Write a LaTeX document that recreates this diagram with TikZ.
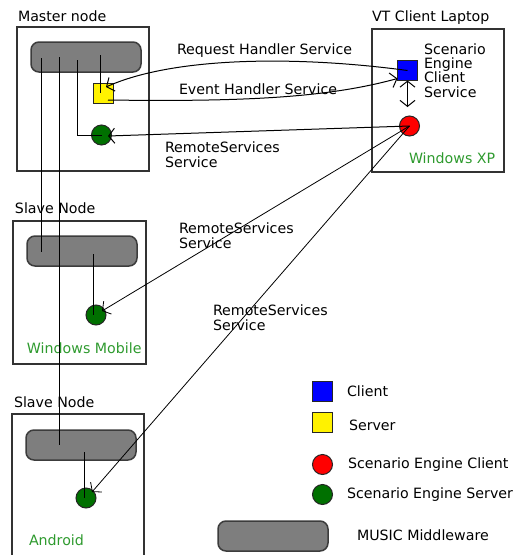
\documentclass[tikz,border=0pt]{standalone}
\usepackage{fontspec}
\setmainfont{DejaVu Sans}
\usetikzlibrary{arrows.meta,calc}
\definecolor{mwfill}{HTML}{7E7E7E}
\definecolor{mwedge}{HTML}{3C3C3C}
\definecolor{osgreen}{HTML}{2E9A2E}
\definecolor{segreen}{HTML}{007000}
\begin{document}
\begin{tikzpicture}[x=1pt,y=-1pt,
  font=\fontsize{14.2}{14.4}\selectfont, line width=1pt,
  hostbox/.style={draw=black!80, line width=1.2pt, inner sep=0, outer sep=0, anchor=north west},
  mw/.style={draw=mwedge, fill=mwfill, rounded corners=8pt, line width=1.5pt,
    minimum width=110pt, minimum height=30pt, inner sep=0, outer sep=0, anchor=north west},
  sq/.style={draw=black!85, line width=1pt, minimum size=20pt, inner sep=0, outer sep=0},
  dot/.style={circle, draw=black!85, line width=1pt, minimum size=20pt, inner sep=0, outer sep=0},
  lbl/.style={anchor=base west, inner sep=0, outer sep=0},
  ostext/.style={lbl, text=osgreen},
  tip/.tip={Straight Barb[length=6pt,width=15pt]},
  arr/.style={-tip},
  diag/.style={arr, line width=0.8pt}]
\useasboundingbox (0,0) rectangle (517,555);

% host boxes
\node[hostbox, minimum width=132pt, minimum height=144pt] (master) at (17,27) {};
\node[hostbox, minimum width=133pt, minimum height=143pt] (slave1) at (13,221) {};
\node[hostbox, minimum width=132pt, minimum height=150pt] (slave2) at (12,414) {};
\node[hostbox, minimum width=132pt, minimum height=143pt] (laptop) at (372,29) {};

% box titles
\node[lbl] (tmaster) at (18,21) {Master node};
\node[lbl] (tslave1) at (15,213) {Slave Node};
\node[lbl] (tslave2) at (14,407) {Slave Node};
\node[lbl] (tlaptop) at (372,21) {VT Client Laptop};

% middleware layers
\node[mw] (mmw) at (31,42) {};
\node[mw] (s1mw) at (27,236) {};
\node[mw] (s2mw) at (26,430) {};

% components
\node[sq, fill=yellow] (yellow) at (103.5,93) {};
\node[dot, fill=segreen] (mgreen) at (101.5,135) {};
\node[dot, fill=segreen] (s1green) at (96,315) {};
\node[dot, fill=segreen] (s2green) at (86,498) {};
\node[sq, fill=blue] (blue) at (407.5,70.5) {};
\node[dot, fill=red] (red) at (409.5,126) {};

% operating systems
\node[ostext] (oswm) at (27,353) {Windows Mobile};
\node[ostext] (osand) at (29,545) {Android};
\node[ostext] (osxp) at (409,163) {Windows XP};

% client service caption
\node[lbl, align=left, anchor=north west] (secs) at (424,43.5)
  {Scenario\\[-0.1pt]Engine\\[-0.1pt]Client\\[-0.1pt]Service};

% middleware links
\coordinate (ma) at (41,58);
\coordinate (sa) at (41,252);
\coordinate (mb) at (59,57);
\coordinate (sb) at (59,445);
\coordinate (mc) at (77,60);
\coordinate (md) at (100.5,55);
\coordinate (s1c) at (93,254);
\coordinate (s2c) at (84,452);
\draw (ma) -- (sa);
\draw (mb) -- (sb);
\draw (mc) |- (mgreen.center);
\draw (md) -- (md |- yellow.center);
\draw (s1c) -- (s1c |- s1green.center);
\draw (s2c) -- (s2c |- s2green.center);

% services
\draw[arr] (blue.center) .. controls (300,56) and (175,56) .. ($(yellow.center)+(2.5,-6)$);
\draw[arr] ($(yellow.center)+(4.5,7)$) .. controls (250,102) and (330,97) .. ($(blue.south west)+(0,-2)$);
\draw[arr] (red.center) -- ($(mgreen.center)+(6.5,1)$);
\draw[diag] (red.center) -- ($(s1green.center)+(6,-4)$);
\draw[diag] (red.center) -- ($(s2green.center)+(6,-6)$);
\draw[tip-tip] (blue.south) -- ($(blue.south |- red.north)+(0,-9)$);

% service labels
\node[lbl] (lreq) at (177,54) {Request Handler Service};
\node[lbl] (levt) at (179,94) {Event Handler Service};
\node[lbl, align=left, anchor=north west] (lrs0) at (165,141.5) {RemoteServices\\[0.5pt]Service};
\node[lbl, align=left, anchor=north west] (lrs1) at (179,222.5) {RemoteServices\\[0.5pt]Service};
\node[lbl, align=left, anchor=north west] (lrs2) at (213,304.5) {RemoteServices\\[0.5pt]Service};

% legend
\node[sq, fill=blue] (kblue) at (322.5,391.5) {};
\node[sq, fill=yellow] (kyellow) at (322.5,422.5) {};
\node[dot, fill=red] (kred) at (322.5,464.5) {};
\node[dot, fill=segreen] (kgreen) at (322.5,494.5) {};
\node[mw] (kmw) at (218,521) {};
\node[lbl] (lclient) at (347,396) {Client};
\node[lbl] (lserver) at (349,430) {Server};
\node[lbl] (lsec) at (348,468) {Scenario Engine Client};
\node[lbl] (lses) at (347,498) {Scenario Engine Server};
\node[lbl] (lmw) at (357,540) {MUSIC Middleware};
\end{tikzpicture}
\end{document}
